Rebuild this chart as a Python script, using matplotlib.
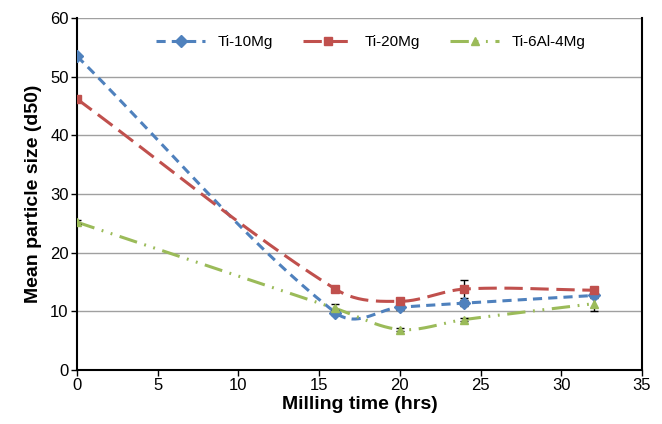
import numpy as np
import matplotlib
matplotlib.use("Agg")
import matplotlib.pyplot as plt
from matplotlib.lines import Line2D

plt.rcParams['font.family'] = ['Liberation Sans', 'DejaVu Sans']

# milling time (hrs)
hours = [0, 16, 20, 24, 32]

ti10mg = [53.5, 9.8, 10.7, 11.4, 12.7]
ti10mg_err = [0, 0.4, 0.4, 0.5, 0.4]

ti20mg = [46.2, 13.8, 11.7, 13.8, 13.6]
ti20mg_err = [0, 0.3, 0.3, 1.6, 0.3]

ti6al4mg = [25.2, 10.5, 6.9, 8.6, 11.3]
ti6al4mg_err = [0.3, 0.7, 0.3, 0.3, 1.3]

labels = ['Ti-10Mg', 'Ti-20Mg', 'Ti-6Al-4Mg']


def smooth(x, y, n=40):
    # smoothed line (cubic bezier, tangents from neighbours)
    x = np.asarray(x, float)
    y = np.asarray(y, float)
    m = len(x)
    tan = np.zeros(m)
    for i in range(m):
        a = max(i - 1, 0)
        b = min(i + 1, m - 1)
        tan[i] = (y[b] - y[a]) / (x[b] - x[a])
    px, py = [], []
    for i in range(m - 1):
        dx = x[i + 1] - x[i]
        c1y = y[i] + tan[i] * dx / 3
        c2y = y[i + 1] - tan[i + 1] * dx / 3
        t = np.linspace(0, 1, n)
        bx = x[i] + dx * t
        by = (1-t)**3*y[i] + 3*(1-t)**2*t*c1y + 3*(1-t)*t**2*c2y + t**3*y[i+1]
        px.extend(bx)
        py.extend(by)
    return px, py


fig = plt.figure(figsize=(6.62, 4.24), dpi=100)
ax = fig.add_axes([0.1163, 0.1274, 0.8535, 0.83])

series = [
    (ti10mg, ti10mg_err, '#4F81BD', (0, (3, 2)), 'D', 6),
    (ti20mg, ti20mg_err, '#C0504D', (0, (6, 2.5)), 's', 6),
    (ti6al4mg, ti6al4mg_err, '#9BBB59', (0, (6, 2.5, 0.6, 2.5, 0.6, 2.5)), '^', 6),
]

handles = []
for (vals, err, col, ls, mk, ms), lab in zip(series, labels):
    sx, sy = smooth(hours, vals)
    ax.plot(sx, sy, color=col, lw=2.2, ls=ls, zorder=3)
    ax.errorbar(hours, vals, yerr=err, fmt='none', ecolor='black', elinewidth=1,
                capsize=3, capthick=1, zorder=4)
    ax.plot(hours, vals, ls='none', marker=mk, color=col, ms=ms, zorder=5)
    handles.append(Line2D([], [], color=col, lw=2.2, ls=ls, marker=mk, ms=ms))

ax.set_xlim(0, 35)
ax.set_ylim(0, 60)
ax.set_xticks(range(0, 36, 5))
ax.set_yticks(range(0, 61, 10))
ax.yaxis.grid(True, color='#A0A0A0', lw=1)
ax.set_axisbelow(True)
for s in ['left', 'bottom', 'right']:
    ax.spines[s].set_color('black')
    ax.spines[s].set_linewidth(1.5)
ax.spines['top'].set_visible(False)
ax.tick_params(axis='both', labelsize=12, direction='out', length=4, width=1, pad=2)

ax.set_xlabel('Milling time (hrs)', fontsize=14, fontweight='bold', labelpad=2)
ax.set_ylabel('Mean particle size (d50)', fontsize=14, fontweight='bold', labelpad=6)

ax.legend(handles, labels, loc='upper center', bbox_to_anchor=(0.52, 0.99), ncol=3,
          frameon=False, fontsize=11, handlelength=3.2, columnspacing=2.0)

fig.savefig('out.png', dpi=100)
